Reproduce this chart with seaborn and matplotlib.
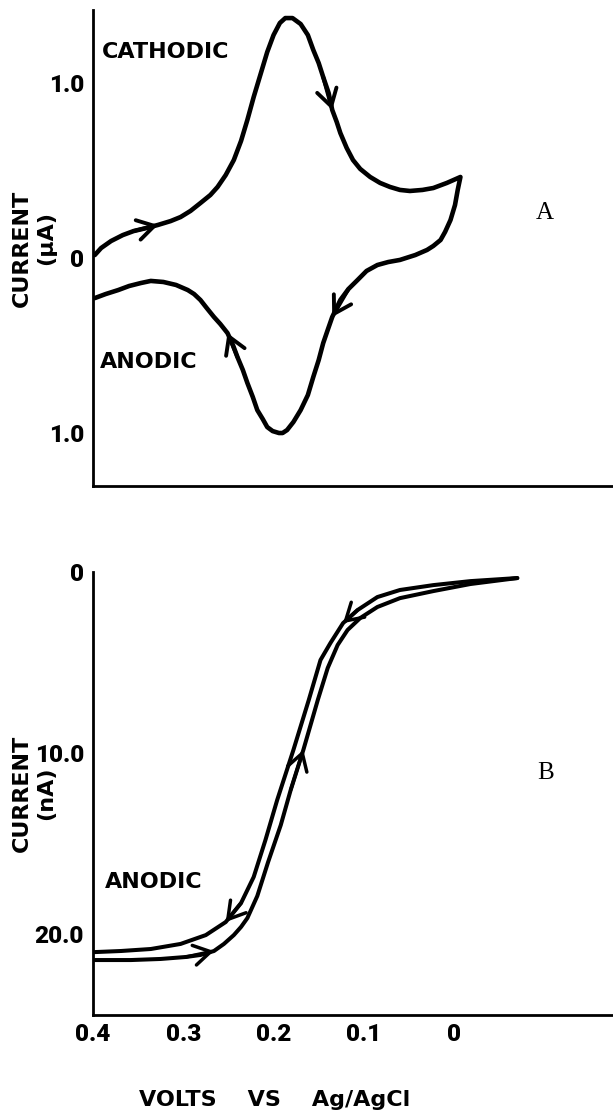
import matplotlib
matplotlib.use("Agg")
import matplotlib.pyplot as plt
import seaborn as sns

# Panel A: cyclic voltammogram (V vs Ag/AgCl, current in uA; cathodic > 0)
a_fwd_v = [0.398, 0.391, 0.380, 0.367, 0.355, 0.341, 0.328, 0.314, 0.303, 0.292,
           0.281, 0.270, 0.262, 0.253, 0.244, 0.236, 0.229, 0.222, 0.214, 0.207,
           0.200, 0.193, 0.187, 0.179, 0.170, 0.162, 0.156, 0.150, 0.145, 0.139,
           0.135, 0.130, 0.126, 0.119, 0.112, 0.104, 0.093, 0.082, 0.071, 0.060,
           0.049, 0.035, 0.023, 0.008, -0.007]
a_fwd_i = [0.017, 0.057, 0.097, 0.131, 0.154, 0.171, 0.189, 0.211, 0.234, 0.269,
           0.314, 0.360, 0.406, 0.474, 0.560, 0.669, 0.789, 0.920, 1.057, 1.177,
           1.274, 1.343, 1.371, 1.371, 1.337, 1.274, 1.189, 1.114, 1.034, 0.943,
           0.846, 0.777, 0.714, 0.629, 0.560, 0.509, 0.463, 0.429, 0.406, 0.389,
           0.383, 0.389, 0.400, 0.429, 0.463]
a_rev_v = [-0.004, -0.001, 0.004, 0.010, 0.015, 0.023, 0.030, 0.043, 0.060, 0.073,
           0.085, 0.097, 0.107, 0.117, 0.126, 0.135, 0.140, 0.145, 0.150, 0.156,
           0.162, 0.170, 0.178, 0.185, 0.190, 0.194, 0.201, 0.207, 0.212, 0.218,
           0.223, 0.229, 0.234, 0.240, 0.245, 0.251, 0.259, 0.266, 0.274, 0.281,
           0.288, 0.295, 0.308, 0.322, 0.336, 0.347, 0.360, 0.372, 0.386, 0.398]
a_rev_i = [0.389, 0.303, 0.217, 0.149, 0.103, 0.069, 0.046, 0.017, -0.011, -0.023,
           -0.040, -0.074, -0.126, -0.177, -0.240, -0.337, -0.411, -0.486, -0.583, -0.680,
           -0.783, -0.869, -0.937, -0.983, -1.000, -1.000, -0.989, -0.966, -0.920, -0.869,
           -0.794, -0.714, -0.640, -0.566, -0.497, -0.429, -0.377, -0.337, -0.286, -0.240,
           -0.206, -0.183, -0.154, -0.137, -0.131, -0.143, -0.160, -0.183, -0.206, -0.229]

# Panel B: steady-state voltammogram (current in nA, anodic downward)
b_fwd_v = [0.398, 0.358, 0.325, 0.297, 0.281, 0.266, 0.255, 0.244, 0.236, 0.229,
           0.218, 0.206, 0.192, 0.181, 0.167, 0.151, 0.140, 0.129, 0.118, 0.104,
           0.085, 0.060, 0.023, -0.018, -0.070]
b_fwd_i = [21.44, 21.44, 21.38, 21.27, 21.16, 20.94, 20.55, 20.06, 19.61, 19.12,
           17.90, 16.02, 13.98, 12.04, 9.83, 7.07, 5.30, 4.03, 3.20, 2.54,
           1.93, 1.44, 1.05, 0.66, 0.33]
b_rev_v = [-0.070, -0.018, 0.023, 0.060, 0.085, 0.107, 0.123, 0.137, 0.148, 0.161,
           0.178, 0.196, 0.209, 0.222, 0.236, 0.253, 0.275, 0.303, 0.336, 0.369, 0.398]
b_rev_i = [0.33, 0.50, 0.72, 0.99, 1.38, 2.10, 2.82, 3.92, 4.86, 7.07,
           9.83, 12.60, 14.81, 16.85, 18.29, 19.34, 20.06, 20.55, 20.83, 20.94, 21.00]

# arrow heads: (tail index, tip index) on each branch
a_fwd_arrows = [(4, 6), (28, 30)]
a_rev_arrows = [(13, 15), (33, 35)]
b_fwd_arrows = [(3, 5), (13, 14)]
b_rev_arrows = [(5, 6), (14, 15)]

a_yticks = [1.0, 0.0, -1.0]
a_yticklabels = ["1.0", "0", "1.0"]
b_yticks = [0, 10, 20]
b_yticklabels = ["0", "10.0", "20.0"]
xticks = [0.4, 0.3, 0.2, 0.1, 0.0]
xticklabels = ["0.4", "0.3", "0.2", "0.1", "0"]

sns.set_style("white")
plt.rcParams["font.family"] = ["Roboto", "DejaVu Sans"]
plt.rcParams["text.color"] = "black"
plt.rcParams["axes.labelcolor"] = "black"
plt.rcParams["xtick.color"] = "black"
plt.rcParams["ytick.color"] = "black"

WORD = dict(family=["DejaVu Sans"], fontweight="bold", fontsize=16)
NUM = dict(family=["Roboto", "DejaVu Sans"], fontweight="heavy", fontsize=17.5)


def add_arrows(ax, xs, ys, pairs, lw):
    for tail, tip in pairs:
        ax.annotate("", xy=(xs[tip], ys[tip]), xytext=(xs[tail], ys[tail]),
                    arrowprops=dict(arrowstyle="->,head_length=0.75,head_width=0.45",
                                    lw=lw, color="black", shrinkA=0, shrinkB=0,
                                    mutation_scale=16))


def style_axes(ax):
    for s in ["top", "right"]:
        ax.spines[s].set_visible(False)
    for s in ["left", "bottom"]:
        ax.spines[s].set_linewidth(2.0)
        ax.spines[s].set_color("black")
    ax.tick_params(axis="y", direction="inout", length=12, width=2, pad=0.5)
    ax.tick_params(axis="x", direction="inout", length=11, width=2, pad=0.5)


def current_label(ax, unit, unit_y):
    ax.text(-0.1365, 0.5, "CURRENT", transform=ax.transAxes, rotation=90,
            ha="center", va="center", **WORD)
    ax.text(-0.090, unit_y, unit, transform=ax.transAxes, rotation=90,
            ha="center", va="center", **WORD)


fig = plt.figure(figsize=(6.13, 11.13), dpi=100)
ax_a = fig.add_axes([0.1517, 0.5633, 0.8483, 0.4277])
ax_b = fig.add_axes([0.1517, 0.0880, 0.8483, 0.3980])

# ---- panel A
loop_v = a_fwd_v + a_rev_v
loop_i = a_fwd_i + a_rev_i
sns.lineplot(x=loop_v, y=loop_i, sort=False, estimator=None, ax=ax_a,
             color="black", linewidth=3.3, solid_joinstyle="round", solid_capstyle="round")
add_arrows(ax_a, a_fwd_v, a_fwd_i, a_fwd_arrows, 2.8)
add_arrows(ax_a, a_rev_v, a_rev_i, a_rev_arrows, 2.8)
ax_a.set_xlim(0.4, -0.176)
ax_a.set_ylim(-1.303, 1.417)
ax_a.set_xticks([])
ax_a.set_yticks(a_yticks)
ax_a.set_yticklabels(a_yticklabels, **NUM)
current_label(ax_a, "(µA)", 0.521)
ax_a.text(0.017, 0.912, "CATHODIC", transform=ax_a.transAxes, ha="left", va="center", **WORD)
ax_a.text(0.013, 0.261, "ANODIC", transform=ax_a.transAxes, ha="left", va="center", **WORD)
ax_a.text(0.869, 0.574, "A", transform=ax_a.transAxes, ha="center", va="center",
          family=["Liberation Serif", "DejaVu Serif"], fontsize=18)
style_axes(ax_a)

# ---- panel B
sns.lineplot(x=b_fwd_v, y=b_fwd_i, sort=False, estimator=None, ax=ax_b,
             color="black", linewidth=2.9, solid_joinstyle="round", solid_capstyle="round")
sns.lineplot(x=b_rev_v, y=b_rev_i, sort=False, estimator=None, ax=ax_b,
             color="black", linewidth=2.9, solid_joinstyle="round", solid_capstyle="round")
add_arrows(ax_b, b_fwd_v, b_fwd_i, b_fwd_arrows, 2.5)
add_arrows(ax_b, b_rev_v, b_rev_i, b_rev_arrows, 2.5)
ax_b.set_xlim(0.4, -0.176)
ax_b.set_ylim(24.48, 0)
ax_b.set_xticks(xticks)
ax_b.set_xticklabels(xticklabels, **NUM)
ax_b.set_yticks(b_yticks)
ax_b.set_yticklabels(b_yticklabels, **NUM)
current_label(ax_b, "(nA)", 0.5)
ax_b.set_xlabel("VOLTS    VS    Ag/AgCl", **WORD)
ax_b.xaxis.set_label_coords(0.35, -0.169)
ax_b.text(0.023, 0.300, "ANODIC", transform=ax_b.transAxes, ha="left", va="center", **WORD)
ax_b.text(0.871, 0.546, "B", transform=ax_b.transAxes, ha="center", va="center",
          family=["Liberation Serif", "DejaVu Serif"], fontsize=18)
style_axes(ax_b)

fig.savefig("out.png", dpi=100)
